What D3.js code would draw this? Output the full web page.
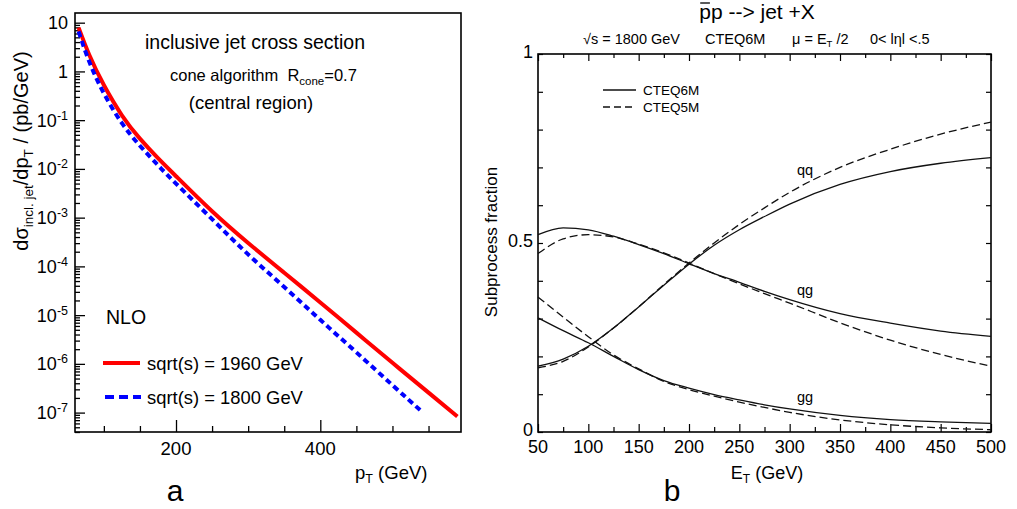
<!DOCTYPE html>
<html lang="en">
<head>
<meta charset="UTF-8">
<title>Inclusive jet cross section / subprocess fraction</title>
<script src="https://d3js.org/d3.v7.min.js"></script>
<style>
  body { margin: 0; background: #fff; }
  svg { font-family: "Liberation Sans", Arial, Helvetica, sans-serif; }
  text { white-space: pre; }
</style>
</head>
<body>
<div id="chart"></div>
<script>
// ---- panel a: inclusive jet cross section (pb/GeV) vs pT (GeV)
var ptRed = [65, 80, 100, 125, 150, 175, 200, 250, 300, 350, 400, 450, 500, 550, 590];
var xsec1960 = [7.9, 2.14, 0.525, 0.126, 0.0417, 0.0166, 0.00708, 1.35e-3, 3.02e-4, 7.4e-5, 1.82e-5, 4.37e-6, 1.05e-6, 2.57e-7, 8.3e-8];
var ptBlue = [65, 80, 100, 125, 150, 175, 200, 250, 300, 350, 400, 450, 500, 540];
var xsec1800 = [6.6, 1.55, 0.355, 0.087, 0.0299, 0.0119, 5.0e-3, 9.3e-4, 1.76e-4, 3.77e-5, 8.0e-6, 1.72e-6, 3.66e-7, 1.07e-7];
var decadeLabels = [[10, "10", ""], [1, "1", ""], [1e-1, "10", "-1"], [1e-2, "10", "-2"], [1e-3, "10", "-3"],
                    [1e-4, "10", "-4"], [1e-5, "10", "-5"], [1e-6, "10", "-6"], [1e-7, "10", "-7"]];

// ---- panel b: subprocess fraction vs ET (GeV)
var et = [50, 75, 100, 125, 150, 175, 200, 225, 250, 275, 300, 350, 400, 450, 500];
var qq6 = [0.174, 0.193, 0.227, 0.275, 0.331, 0.388, 0.444, 0.494, 0.535, 0.570, 0.603, 0.655, 0.689, 0.711, 0.726];
var qq5 = [0.170, 0.187, 0.225, 0.275, 0.331, 0.390, 0.447, 0.500, 0.549, 0.593, 0.634, 0.700, 0.748, 0.788, 0.820];
var qg6 = [0.522, 0.540, 0.535, 0.518, 0.496, 0.472, 0.445, 0.419, 0.396, 0.372, 0.350, 0.313, 0.288, 0.267, 0.253];
var qg5 = [0.472, 0.511, 0.522, 0.516, 0.497, 0.474, 0.447, 0.419, 0.392, 0.366, 0.341, 0.289, 0.243, 0.205, 0.174];
var gg6 = [0.302, 0.268, 0.236, 0.200, 0.165, 0.136, 0.116, 0.099, 0.085, 0.072, 0.061, 0.044, 0.033, 0.027, 0.023];
var gg5 = [0.357, 0.304, 0.252, 0.204, 0.167, 0.134, 0.112, 0.095, 0.079, 0.065, 0.052, 0.032, 0.019, 0.011, 0.006];

var svg = d3.select("#chart").append("svg")
    .attr("width", 1017).attr("height", 509);

// ================= panel a =================
var xa = d3.scaleLinear().domain([60, 595]).range([75, 461]);
var ya = d3.scaleLog().domain([4e-8, 15.8]).range([432, 13]);

var ga = svg.append("g");

// minor ticks on log axis
var minorY = ya.ticks().filter(function(d) {
    var m = d / Math.pow(10, Math.floor(Math.log10(d) + 1e-9));
    return Math.abs(m - 1) > 1e-6;
});
ga.append("g").attr("transform", "translate(75,0)")
    .call(d3.axisRight(ya).tickValues(minorY).tickSize(5).tickFormat(""))
    .call(function(g) { g.select(".domain").remove(); });
ga.append("g").attr("transform", "translate(75,0)")
    .call(d3.axisRight(ya).tickValues(decadeLabels.map(function(d) { return d[0]; })).tickSize(10).tickFormat(""))
    .call(function(g) { g.select(".domain").remove(); });

// decade labels with superscripts
decadeLabels.forEach(function(d) {
    var t = ga.append("text")
        .attr("x", 68).attr("y", ya(d[0]) + 6.5)
        .attr("text-anchor", "end")
        .attr("font-size", 18);
    t.append("tspan").text(d[1]);
    if (d[2]) t.append("tspan").attr("dy", -7).attr("font-size", 12.5).text(d[2]);
});

// bottom axis
ga.append("g").attr("transform", "translate(0,432)")
    .call(d3.axisTop(xa).tickValues([100, 150, 250, 300, 350, 450, 500, 550]).tickSize(6).tickFormat(""))
    .call(function(g) { g.select(".domain").remove(); });
ga.append("g").attr("transform", "translate(0,432)")
    .call(d3.axisTop(xa).tickValues([200, 400]).tickSize(12).tickFormat(""))
    .call(function(g) { g.select(".domain").remove(); });
[200, 400].forEach(function(v) {
    ga.append("text").attr("x", xa(v)).attr("y", 455)
        .attr("text-anchor", "middle").attr("font-size", 18.5).text(v);
});
ga.selectAll(".tick line").attr("stroke", "#000").attr("stroke-width", 1.3);

ga.append("rect").attr("x", 75).attr("y", 13).attr("width", 386).attr("height", 419)
    .attr("fill", "none").attr("stroke", "#000").attr("stroke-width", 1.6);

var lineA = d3.line().curve(d3.curveNatural);
ga.append("path")
    .attr("d", lineA(ptRed.map(function(p, i) { return [xa(p), ya(xsec1960[i])]; })))
    .attr("fill", "none").attr("stroke", "#ff0000").attr("stroke-width", 4);
ga.append("path")
    .attr("d", lineA(ptBlue.map(function(p, i) { return [xa(p), ya(xsec1800[i])]; })))
    .attr("fill", "none").attr("stroke", "#0000ff").attr("stroke-width", 4)
    .attr("stroke-dasharray", "6,4");

// texts
ga.append("text").attr("x", 255).attr("y", 49).attr("text-anchor", "middle")
    .attr("font-size", 19.5).text("inclusive jet cross section");
var t2 = ga.append("text").attr("x", 170).attr("y", 81).attr("font-size", 16.5);
t2.append("tspan").text("cone algorithm  R");
t2.append("tspan").attr("dy", 4).attr("font-size", 11.5).text("cone");
t2.append("tspan").attr("dy", -4).text("=0.7");
ga.append("text").attr("x", 251).attr("y", 109).attr("text-anchor", "middle")
    .attr("font-size", 18.5).text("(central region)");
ga.append("text").attr("x", 106).attr("y", 324).attr("font-size", 19.5).text("NLO");

ga.append("line").attr("x1", 103).attr("x2", 140).attr("y1", 363).attr("y2", 363)
    .attr("stroke", "#ff0000").attr("stroke-width", 4);
ga.append("text").attr("x", 147).attr("y", 369.5).attr("font-size", 18.4).text("sqrt(s) = 1960 GeV");
ga.append("line").attr("x1", 105).attr("x2", 141).attr("y1", 397).attr("y2", 397)
    .attr("stroke", "#0000ff").attr("stroke-width", 4).attr("stroke-dasharray", "9,5");
ga.append("text").attr("x", 147).attr("y", 403.5).attr("font-size", 18.4).text("sqrt(s) = 1800 GeV");

var ylab = ga.append("text").attr("transform", "translate(28,151) rotate(-90)")
    .attr("text-anchor", "middle").attr("font-size", 20);
ylab.append("tspan").text("dσ");
ylab.append("tspan").attr("dy", 5).attr("font-size", 13.5).text("incl. jet");
ylab.append("tspan").attr("dy", -5).text("/dp");
ylab.append("tspan").attr("dy", 5).attr("font-size", 13.5).text("T");
ylab.append("tspan").attr("dy", -5).text(" / (pb/GeV)");

var xlab = ga.append("text").attr("x", 355).attr("y", 479).attr("font-size", 18.5);
xlab.append("tspan").text("p");
xlab.append("tspan").attr("dy", 4).attr("font-size", 12.5).text("T");
xlab.append("tspan").attr("dy", -4).text(" (GeV)");
ga.append("text").attr("x", 175).attr("y", 501).attr("text-anchor", "middle")
    .attr("font-size", 30).text("a");

// ================= panel b =================
var xb = d3.scaleLinear().domain([50, 500]).range([538, 991]);
var yb = d3.scaleLinear().domain([0, 1]).range([432, 54]);
var gb = svg.append("g");

var minorEt = d3.range(75, 500, 50);
var majorEt = d3.range(50, 501, 50);
var fracTicks = d3.range(0, 1.01, 0.1);

gb.append("g").attr("transform", "translate(0,432)")
    .call(d3.axisTop(xb).tickValues(minorEt).tickSize(5).tickFormat(""));
gb.append("g").attr("transform", "translate(0,432)")
    .call(d3.axisTop(xb).tickValues(majorEt).tickSize(8).tickFormat(""));
gb.append("g").attr("transform", "translate(0,54)")
    .call(d3.axisBottom(xb).tickValues(minorEt).tickSize(4).tickFormat(""));
gb.append("g").attr("transform", "translate(0,54)")
    .call(d3.axisBottom(xb).tickValues(majorEt).tickSize(7).tickFormat(""));
gb.append("g").attr("transform", "translate(538,0)")
    .call(d3.axisRight(yb).tickValues(fracTicks).tickSize(5).tickFormat(""));
gb.append("g").attr("transform", "translate(991,0)")
    .call(d3.axisLeft(yb).tickValues(fracTicks).tickSize(5).tickFormat(""));
gb.selectAll(".domain").remove();
gb.selectAll(".tick line").attr("stroke", "#000").attr("stroke-width", 1.2);

majorEt.forEach(function(v) {
    gb.append("text").attr("x", xb(v)).attr("y", 453).attr("text-anchor", "middle")
        .attr("font-size", 18).text(v);
});
[[0, "0"], [0.5, "0.5"], [1, "1"]].forEach(function(d) {
    gb.append("text").attr("x", 533).attr("y", yb(d[0]) + 4).attr("text-anchor", "end")
        .attr("font-size", 18).text(d[1]);
});

gb.append("rect").attr("x", 538).attr("y", 54).attr("width", 453).attr("height", 378)
    .attr("fill", "none").attr("stroke", "#000").attr("stroke-width", 1.6);

var lineB = d3.line().curve(d3.curveMonotoneX);
function drawFrac(vals, dashed) {
    gb.append("path")
        .attr("d", lineB(et.map(function(e, i) { return [xb(e), yb(vals[i])]; })))
        .attr("fill", "none").attr("stroke", "#111").attr("stroke-width", 1.3)
        .attr("stroke-dasharray", dashed ? "8,4" : null);
}
drawFrac(qq6, false); drawFrac(qq5, true);
drawFrac(qg6, false); drawFrac(qg5, true);
drawFrac(gg6, false); drawFrac(gg5, true);

[["qq", 170], ["qg", 290], ["gg", 397]].forEach(function(d) {
    gb.append("text").attr("x", 805).attr("y", d[1] + 5).attr("text-anchor", "middle")
        .attr("font-size", 14.5).text(d[0]);
});

// legend
gb.append("line").attr("x1", 603).attr("x2", 636).attr("y1", 90).attr("y2", 90)
    .attr("stroke", "#111").attr("stroke-width", 1.3);
gb.append("text").attr("x", 643).attr("y", 95).attr("font-size", 13.5).text("CTEQ6M");
gb.append("line").attr("x1", 603).attr("x2", 636).attr("y1", 107).attr("y2", 107)
    .attr("stroke", "#111").attr("stroke-width", 1.3).attr("stroke-dasharray", "7,4");
gb.append("text").attr("x", 643).attr("y", 112).attr("font-size", 13.5).text("CTEQ5M");

// titles
var ttl = gb.append("text").attr("x", 757).attr("y", 19).attr("text-anchor", "middle").attr("font-size", 21)
    .text("pp --> jet +X");
// bar over the first p (antiproton)
var ch = ttl.node().getExtentOfChar(0);
gb.append("line").attr("x1", ch.x + 1).attr("x2", ch.x + ch.width - 1)
    .attr("y1", 3).attr("y2", 3).attr("stroke", "#000").attr("stroke-width", 1.3);

var subs = [[583, "√s = 1800 GeV"], [705, "CTEQ6M"], [870, "0< lηl <.5"]];
subs.forEach(function(d) {
    gb.append("text").attr("x", d[0]).attr("y", 44).attr("font-size", 14.5).text(d[1]);
});
var mu = gb.append("text").attr("x", 792).attr("y", 44).attr("font-size", 14.5);
mu.append("tspan").text("μ = E");
mu.append("tspan").attr("dy", 3).attr("font-size", 9.5).text("T");
mu.append("tspan").attr("dy", -3).text(" /2");

gb.append("text").attr("transform", "translate(497,242) rotate(-90)")
    .attr("text-anchor", "middle").attr("font-size", 17).text("Subprocess fraction");
var etl = gb.append("text").attr("x", 767).attr("y", 479).attr("text-anchor", "middle").attr("font-size", 18);
etl.append("tspan").text("E");
etl.append("tspan").attr("dy", 4).attr("font-size", 12).text("T");
etl.append("tspan").attr("dy", -4).text(" (GeV)");
gb.append("text").attr("x", 672).attr("y", 501).attr("text-anchor", "middle")
    .attr("font-size", 30).text("b");
</script>
</body>
</html>
